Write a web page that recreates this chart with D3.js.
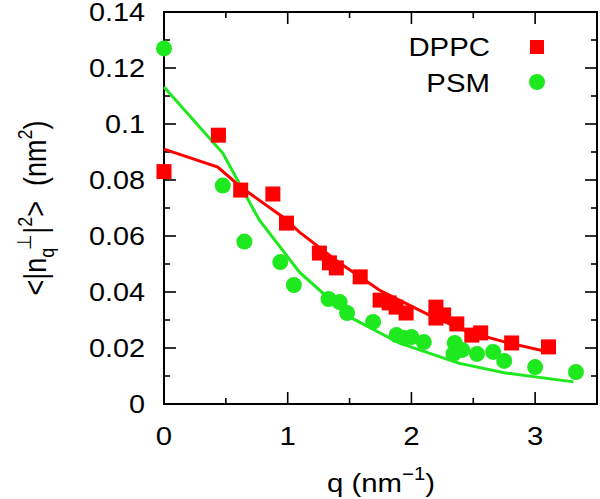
<!DOCTYPE html>
<html>
<head>
<meta charset="utf-8">
<script src="https://cdn.jsdelivr.net/npm/d3@7"></script>
<style>
  html, body { margin: 0; padding: 0; background: #fff; }
  svg { display: block; font-family: "Liberation Sans", Arial, sans-serif; }
</style>
</head>
<body>
<div class="container"></div>
<script>
const width = 600;
const height = 499;

// DPPC data (squares)
const dppcQ = [0, 0.44, 0.62, 0.88, 0.99, 1.256, 1.337, 1.393, 1.586, 1.747, 1.82, 1.876, 1.957, 2.198, 2.198, 2.26, 2.367, 2.488, 2.56, 2.81, 3.108];
const dppcV = [0.083, 0.096, 0.0764, 0.075, 0.0646, 0.0539, 0.0504, 0.0486, 0.0454, 0.0371, 0.0361, 0.0346, 0.0325, 0.0346, 0.0307, 0.0318, 0.0286, 0.0246, 0.0254, 0.0218, 0.0204];
// DPPC fit
const dppcFitQ = [0, 0.435, 0.62, 0.96, 1.095, 1.40, 1.74, 2.14, 2.46, 2.76, 3.108];
const dppcFitV = [0.091, 0.0846, 0.0775, 0.0668, 0.0614, 0.0510, 0.0407, 0.0318, 0.0257, 0.0221, 0.0186];

// PSM data (circles)
const psmQ = [0, 0.475, 0.65, 0.94, 1.05, 1.33, 1.42, 1.48, 1.69, 1.88, 1.94, 2.0, 2.10, 2.35, 2.41, 2.34, 2.53, 2.66, 2.75, 3.0, 3.33];
const psmV = [0.127, 0.078, 0.058, 0.0507, 0.0425, 0.0375, 0.0364, 0.0325, 0.0293, 0.0246, 0.0236, 0.0239, 0.0221, 0.0218, 0.0193, 0.0179, 0.0179, 0.0186, 0.0154, 0.0132, 0.0114];
// PSM fit
const psmFitQ = [0, 0.475, 0.77, 1.095, 1.5, 1.9, 2.38, 2.76, 3.31];
const psmFitV = [0.1132, 0.0896, 0.0657, 0.0471, 0.0311, 0.0218, 0.0146, 0.0111, 0.0079];

const xTicks = [0, 1, 2, 3];
const yTicks = [0, 0.02, 0.04, 0.06, 0.08, 0.1, 0.12, 0.14];
const yTickLabels = ["0", "0.02", "0.04", "0.06", "0.08", "0.1", "0.12", "0.14"];

const red = "#ff0000";
const green = "#1ee81e";
const stretch = 1.13; // the lettering in the original is a bit wide

const margin = {left: 164, right: 3, top: 12, bottom: 95};

const x = d3.scaleLinear().domain([0, 3.5]).range([margin.left, width - margin.right]);
const y = d3.scaleLinear().domain([0, 0.14]).range([height - margin.bottom, margin.top]);

const svg = d3.select(".container")
    .append("svg")
    .attr("width", width)
    .attr("height", height);

// text helper: wide glyphs via horizontal scale
const label = (g, px, py, anchor, size) => g.append("text")
    .attr("transform", `translate(${px},${py}) scale(${stretch},1)`)
    .attr("text-anchor", anchor)
    .style("font-size", size + "px");

const x0 = x.range()[0], x1 = x.range()[1];
const y0 = y.range()[0], y1 = y.range()[1];

// ticks, all four sides, inward
const xMinor = d3.range(0, 3.51, 0.5);
const yMinor = d3.range(0, 0.1401, 0.01);
const tk = svg.append("g").attr("stroke", "#000").attr("stroke-width", 1.6);
xMinor.forEach(v => {
  const len = Math.abs(v - Math.round(v)) < 1e-6 ? 12 : 6;
  tk.append("line").attr("x1", x(v)).attr("x2", x(v)).attr("y1", y0).attr("y2", y0 - len);
  tk.append("line").attr("x1", x(v)).attr("x2", x(v)).attr("y1", y1).attr("y2", y1 + len);
});
yMinor.forEach((v, i) => {
  const len = i % 2 === 0 ? 12 : 6;
  tk.append("line").attr("x1", x0).attr("x2", x0 + len).attr("y1", y(v)).attr("y2", y(v));
  tk.append("line").attr("x1", x1).attr("x2", x1 - len).attr("y1", y(v)).attr("y2", y(v));
});

svg.append("rect")
    .attr("x", x0).attr("y", y1)
    .attr("width", x1 - x0).attr("height", y0 - y1)
    .attr("fill", "none").attr("stroke", "#000").attr("stroke-width", 2);

// tick labels
const gx = svg.append("g");
xTicks.forEach(d => label(gx, x(d), y0 + 41, "middle", 26).text(d));

const gy = svg.append("g");
yTicks.forEach((d, i) => label(gy, x0 - 19, y(d) + 9, "end", 25.5).text(yTickLabels[i]));

// axis titles
const xt = label(svg, 381, 492, "middle", 26);
xt.append("tspan").text("q (nm");
xt.append("tspan").attr("dy", -12).style("font-size", "18px").text("\u22121");
xt.append("tspan").attr("dy", 12).text(")");

const yt = svg.append("text")
    .attr("transform", `translate(46,208) scale(${stretch},1) rotate(-90)`)
    .attr("text-anchor", "middle")
    .attr("xml:space", "preserve")
    .style("white-space", "pre")
    .style("font-size", "27px");
yt.append("tspan").text("<|n");
yt.append("tspan").attr("dy", 7).style("font-size", "18px").text("q");
yt.append("tspan").attr("dy", -20).attr("dx", -2).style("font-size", "18px").text("\u22a5");
yt.append("tspan").attr("dy", 13).text("|");
yt.append("tspan").attr("dy", -12).style("font-size", "18px").text("2");
yt.append("tspan").attr("dy", 12).text(">  (nm");
yt.append("tspan").attr("dy", -12).style("font-size", "18px").text("2");
yt.append("tspan").attr("dy", 12).text(")");

// clip to plot
svg.append("clipPath").attr("id", "clip")
  .append("rect").attr("x", x0 - 10).attr("y", y1).attr("width", x1 - x0 + 10).attr("height", y0 - y1);

const plot = svg.append("g").attr("clip-path", "url(#clip)");

const line = d3.line().x(d => x(d[0])).y(d => y(d[1]));

plot.append("path")
    .datum(dppcFitQ.map((q, i) => [q, dppcFitV[i]]))
    .attr("d", line)
    .attr("fill", "none").attr("stroke", red).attr("stroke-width", 3);

plot.append("path")
    .datum(psmFitQ.map((q, i) => [q, psmFitV[i]]))
    .attr("d", line)
    .attr("fill", "none").attr("stroke", green).attr("stroke-width", 3);

const sq = 15;
plot.append("g").selectAll("rect")
  .data(dppcQ.map((q, i) => [q, dppcV[i]]))
  .join("rect")
    .attr("x", d => x(d[0]) - sq / 2)
    .attr("y", d => y(d[1]) - sq / 2)
    .attr("width", sq).attr("height", sq)
    .attr("fill", red);

plot.append("g").selectAll("circle")
  .data(psmQ.map((q, i) => [q, psmV[i]]))
  .join("circle")
    .attr("cx", d => x(d[0]))
    .attr("cy", d => y(d[1]))
    .attr("r", 8)
    .attr("fill", green);

// legend
const legend = svg.append("g");
label(legend, 490, 56, "end", 26).text("DPPC");
legend.append("rect").attr("x", 530).attr("y", 40).attr("width", 14).attr("height", 14).attr("fill", red);
label(legend, 490, 92, "end", 26).text("PSM");
legend.append("circle").attr("cx", 537).attr("cy", 82).attr("r", 8).attr("fill", green);
</script>
</body>
</html>
